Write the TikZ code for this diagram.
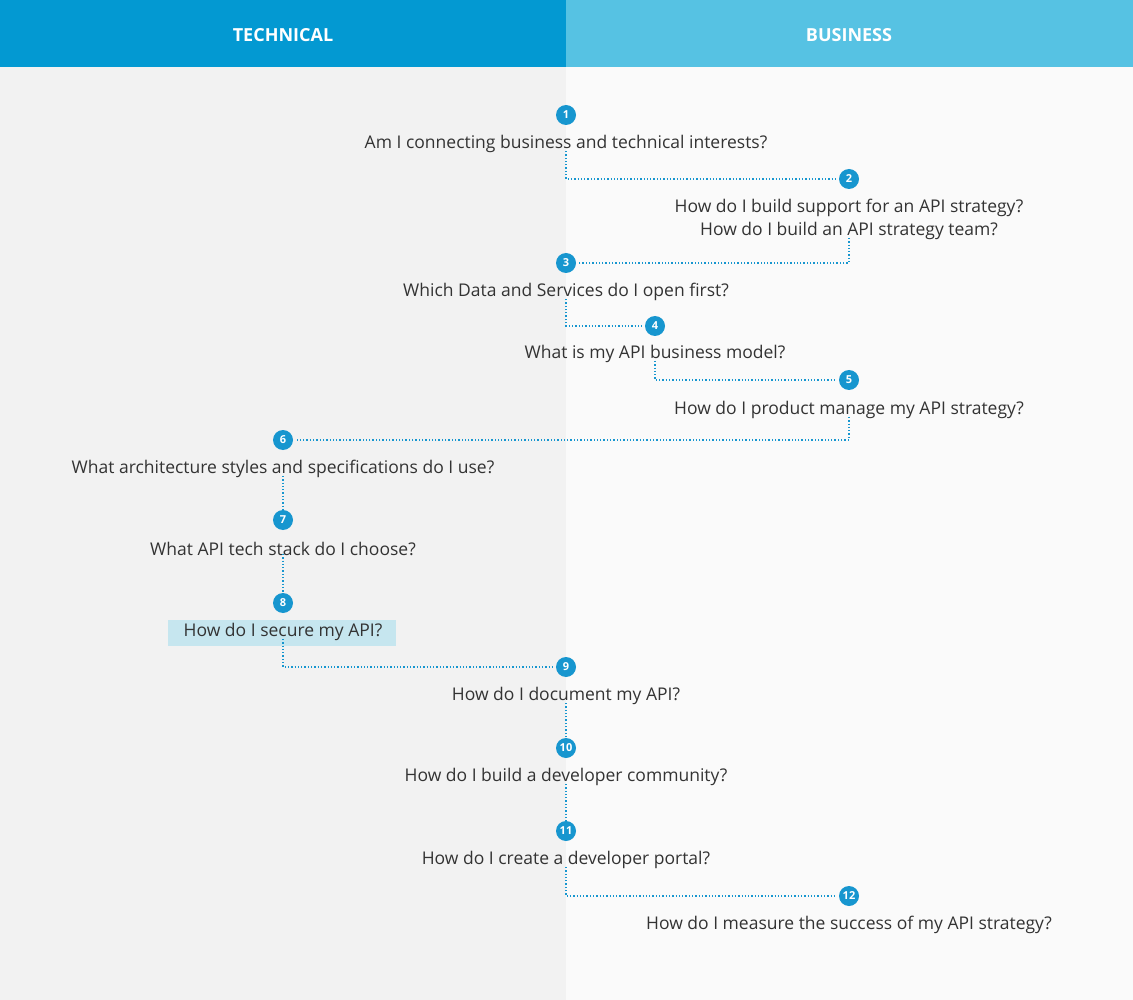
\documentclass[tikz,border=0pt]{standalone}
\usepackage{fontspec}
\setmainfont{Open Sans}
\newfontfamily\lightfont{Open Sans Light}
\definecolor{dblue}{HTML}{0399D2}
\definecolor{lblue}{HTML}{56C2E3}
\definecolor{cblue}{HTML}{1796CF}
\definecolor{txt}{HTML}{333333}
\definecolor{hl}{HTML}{C6E6EF}
\begin{document}
\begin{tikzpicture}[x=1pt,y=-1pt,
  num/.style={circle,fill=cblue,minimum size=20pt,inner sep=0pt,text=white,font=\fontsize{11}{12}\selectfont\bfseries},
  q/.style={text=txt,font=\fontsize{17.5}{20}\selectfont,inner sep=2pt},
  link/.style={cblue,dotted,line width=1.3pt},
  hdr/.style={text=white,font=\fontsize{18}{20}\selectfont\bfseries}]
\useasboundingbox (0,0) rectangle (1133,1000);
\fill[black!5] (0,0) rectangle (566,1000);
\fill[black!2] (566,0) rectangle (1133,1000);
\fill[dblue] (0,0) rectangle (566,67);
\fill[lblue] (566,0) rectangle (1133,67);
\node[hdr] (h1) at (283,35) {TECHNICAL};
\node[hdr] (h2) at (849,35) {BUSINESS};
\fill[hl] (168,620) rectangle (396,646);
\foreach \n/\x/\y in {1/566/115,2/849/179,3/566/263,4/655/326,5/849/380,6/283/440,7/283/520,8/283/603,9/566/667,10/566/748,11/566/831,12/849/896}
  \node[num] (c\n) at (\x,\y) {\n};
\node[q] (t1) at (566,144) {Am I connecting business and technical interests?};
\node[q] (t2a) at (849,208) {How do I build support for an API strategy?};
\node[q] (t2) at (849,231) {How do I build an API strategy team?};
\node[q] (t3) at (566,292) {Which Data and Services do I open first?};
\node[q] (t4) at (655,354) {What is my API business model?};
\node[q] (t5) at (849,410) {How do I product manage my API strategy?};
\node[q] (t6) at (283,469) {What architecture styles and specifications do I use?};
\node[q] (t7) at (283,549) {What API tech stack do I choose?};
\node[q] (t8) at (283,632) {How do I secure my API?};
\node[q] (t9) at (566,696) {How do I document my API?};
\node[q] (t10) at (566,777) {How do I build a developer community?};
\node[q] (t11) at (566,860) {How do I create a developer portal?};
\node[q] (t12) at (849,925) {How do I measure the success of my API strategy?};
\draw[link] ([yshift=4pt]t1.south) |- ([xshift=-3pt]c2.west);
\draw[link] ([yshift=4pt]t2.south) |- ([xshift=3pt]c3.east);
\draw[link] ([yshift=4pt]t3.south) |- ([xshift=-3pt]c4.west);
\draw[link] ([yshift=4pt]t4.south) |- ([xshift=-3pt]c5.west);
\draw[link] ([yshift=4pt]t5.south) |- ([xshift=3pt]c6.east);
\draw[link] ([yshift=4pt]t6.south) -- ([yshift=-4pt]c7.north);
\draw[link] ([yshift=4pt]t7.south) -- ([yshift=-4pt]c8.north);
\draw[link] ([yshift=4pt]t8.south) |- ([xshift=-3pt]c9.west);
\draw[link] ([yshift=4pt]t9.south) -- ([yshift=-4pt]c10.north);
\draw[link] ([yshift=4pt]t10.south) -- ([yshift=-4pt]c11.north);
\draw[link] ([yshift=4pt]t11.south) |- ([xshift=-3pt]c12.west);
\end{tikzpicture}
\end{document}
